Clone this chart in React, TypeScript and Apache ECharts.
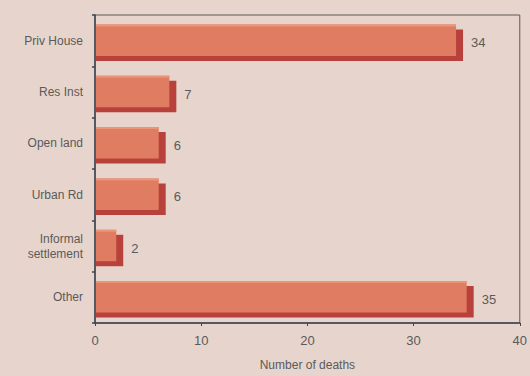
import React, { useEffect, useRef } from "react";
import * as echarts from "echarts";

const categories = ["Priv House", "Res Inst", "Open land", "Urban Rd", "Informal\nsettlement", "Other"];
const deaths = [34, 7, 6, 6, 2, 35];
const xTicks = { min: 0, max: 40, interval: 10 };

export default function App() {
  const ref = useRef<HTMLDivElement>(null);
  useEffect(() => {
    const chart = echarts.init(ref.current!, null, { renderer: "svg" });
    const font = "Liberation Sans, Arial, sans-serif";
    chart.setOption({
      animation: false,
      backgroundColor: "#e7d5cd",
      grid: { left: 95, right: 6, top: 15, bottom: 50, show: true, borderColor: "#5a5a5a", borderWidth: 1, backgroundColor: "transparent" },
      xAxis: {
        type: "value",
        min: xTicks.min,
        max: xTicks.max,
        interval: xTicks.interval,
        splitLine: { show: false },
        axisLine: { show: true, lineStyle: { color: "#3d4450", width: 1.5 } },
        axisTick: { show: true, length: 3, lineStyle: { color: "#3d4450" } },
        axisLabel: { color: "#5a5a5a", fontFamily: font, fontSize: 13, margin: 11 },
        name: "Number of deaths",
        nameLocation: "middle",
        nameGap: 36,
        nameTextStyle: { color: "#5a5a5a", fontFamily: font, fontSize: 12 },
      },
      yAxis: {
        type: "category",
        data: categories,
        inverse: true,
        axisLine: { show: true, lineStyle: { color: "#3d4450", width: 1.5 } },
        axisTick: { show: true, length: 3, lineStyle: { color: "#3d4450", width: 1.5 } },
        axisLabel: { color: "#5a5a5a", fontFamily: font, fontSize: 12, margin: 12, lineHeight: 15 },
      },
      series: [
        {
          type: "custom",
          data: deaths.map((v, i) => [v, i]),
          encode: { x: 0, y: 1 },
          renderItem: (params: any, api: any) => {
            const v = api.value(0);
            const idx = api.value(1);
            const p0 = api.coord([0, idx]);
            const p1 = api.coord([v, idx]);
            const band = api.size([0, 1])[1];
            const h = band * 0.71;
            const yc = p0[1] + 2;
            const top = yc - h / 2;
            const x0 = p0[0] + 1;
            const x1 = p1[0];
            const dx = 7;
            const dy = 5;
            return {
              type: "group",
              children: [
                { type: "rect", shape: { x: x0, y: top + dy, width: x1 - x0 + dx, height: h - dy }, style: { fill: "#b8423b" } },
                { type: "rect", shape: { x: x0, y: top, width: x1 - x0, height: h - dy }, style: { fill: "#e07c62" } },
                { type: "rect", shape: { x: x0, y: top, width: x1 - x0, height: 2 }, style: { fill: "#ea9478" } },
                {
                  type: "text",
                  x: x1 + dx + 8,
                  y: yc,
                  style: { text: String(v), fill: "#5a5a5a", font: `13px ${font}`, verticalAlign: "middle", align: "left" },
                },
              ],
            };
          },
        },
      ],
    });
    return () => chart.dispose();
  }, []);
  return <div ref={ref} style={{ width: 530, height: 376, position: "absolute", left: 0, top: 0 }} />;
}
